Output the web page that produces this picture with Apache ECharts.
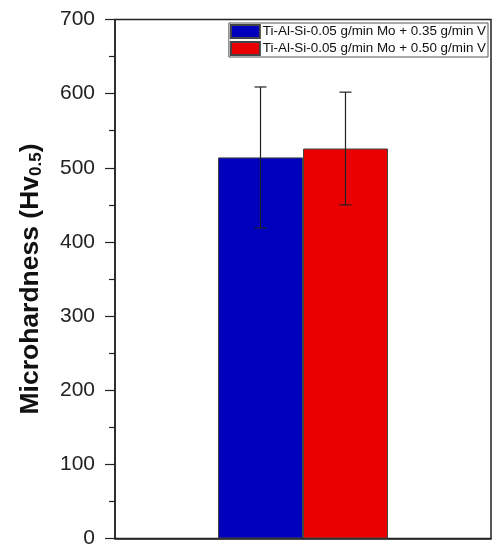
<!DOCTYPE html>
<html>
<head>
<meta charset="utf-8">
<script src="https://cdn.jsdelivr.net/npm/echarts@6/dist/echarts.min.js"></script>
<style>
  html, body { margin: 0; padding: 0; background: #fff; }
  #chart { width: 494px; height: 549px; }
</style>
</head>
<body>
<div id="chart"></div>
<script>
// Microhardness of the two Ti-Al-Si coatings (mean ± standard deviation)
const samples = [
  'Ti-Al-Si-0.05 g/min Mo + 0.35 g/min V',
  'Ti-Al-Si-0.05 g/min Mo + 0.50 g/min V'
];
const hardness = [514, 526];
const deviation = [95, 76];
const barColors = ['#0000bd', '#ea0000'];
const yTicks = [0, 100, 200, 300, 400, 500, 600, 700];

const FONT = 'Liberation Sans, Arial, sans-serif';
const BAR_FRACTION = 0.226; // share of the category band taken by each bar

const chart = echarts.init(document.getElementById('chart'), null, { renderer: 'canvas' });

const barSeries = samples.map((name, i) => ({
  name: name,
  type: 'bar',
  data: [hardness[i]],
  barWidth: (BAR_FRACTION * 100) + '%',
  barGap: '0%',
  itemStyle: { color: barColors[i], borderColor: '#444', borderWidth: 1 },
  z: 2
}));

// Error bars drawn at the centre of each bar
const errorSeries = {
  type: 'custom',
  name: 'sd',
  data: samples.map((_, i) => [0, hardness[i] - deviation[i], hardness[i] + deviation[i], i]),
  encode: { x: 0, y: [1, 2] },
  renderItem: function (params, api) {
    const idx = api.value(3);
    const low = api.coord([api.value(0), api.value(1)]);
    const high = api.coord([api.value(0), api.value(2)]);
    const band = api.size([1, 0])[0];
    const barW = band * BAR_FRACTION;
    const n = samples.length;
    const x = low[0] + (idx - (n - 1) / 2) * barW;
    const capHalf = 6;
    const style = { stroke: '#222', lineWidth: 1.2 };
    return {
      type: 'group',
      children: [
        { type: 'line', shape: { x1: x, y1: high[1], x2: x, y2: low[1] }, style: style },
        { type: 'line', shape: { x1: x - capHalf, y1: high[1], x2: x + capHalf, y2: high[1] }, style: style },
        { type: 'line', shape: { x1: x - capHalf, y1: low[1], x2: x + capHalf, y2: low[1] }, style: style }
      ]
    };
  },
  z: 5,
  silent: true
};

chart.setOption({
  animation: false,
  backgroundColor: '#fff',
  grid: {
    left: 115, right: 3, top: 19.5, bottom: 8,
    show: true, borderColor: '#222', borderWidth: 1.5, backgroundColor: 'transparent'
  },
  legend: {
    data: samples,
    orient: 'vertical',
    right: 6,
    top: 23,
    itemWidth: 29,
    itemHeight: 13,
    itemGap: 2,
    padding: [1, 2, 1, 1],
    borderColor: '#555',
    borderWidth: 1,
    backgroundColor: '#fff',
    textStyle: { fontFamily: FONT, fontSize: 13.4, color: '#111', padding: [0, 0, 0, -2] },
    icon: 'rect'
  },
  xAxis: {
    type: 'category',
    data: ['coating'],
    axisLine: { show: true, lineStyle: { color: '#222', width: 1.5 } },
    axisTick: { show: false },
    axisLabel: { show: false },
    splitLine: { show: false }
  },
  yAxis: {
    type: 'value',
    min: yTicks[0],
    max: yTicks[yTicks.length - 1],
    interval: 100,
    name: '{t|Microhardness (Hv}{s|0.5}{t|)}',
    nameLocation: 'middle',
    nameGap: 70,
    nameRotate: 90,
    nameTextStyle: {
      rich: {
        t: { fontFamily: FONT, fontWeight: 'bold', fontSize: 26.5, color: '#111' },
        s: { fontFamily: FONT, fontWeight: 'bold', fontSize: 17, color: '#111', verticalAlign: 'bottom', padding: [12, 0, 0, 0] }
      }
    },
    axisLine: { show: true, lineStyle: { color: '#222', width: 1.5 } },
    axisTick: { show: true, inside: false, length: 10, lineStyle: { color: '#222', width: 1.2 } },
    minorTick: { show: true, splitNumber: 2, length: 6, lineStyle: { color: '#222', width: 1.2 } },
    axisLabel: { fontFamily: FONT, fontSize: 21, color: '#222', margin: 20 },
    splitLine: { show: false }
  },
  series: [...barSeries, errorSeries]
});
</script>
</body>
</html>
